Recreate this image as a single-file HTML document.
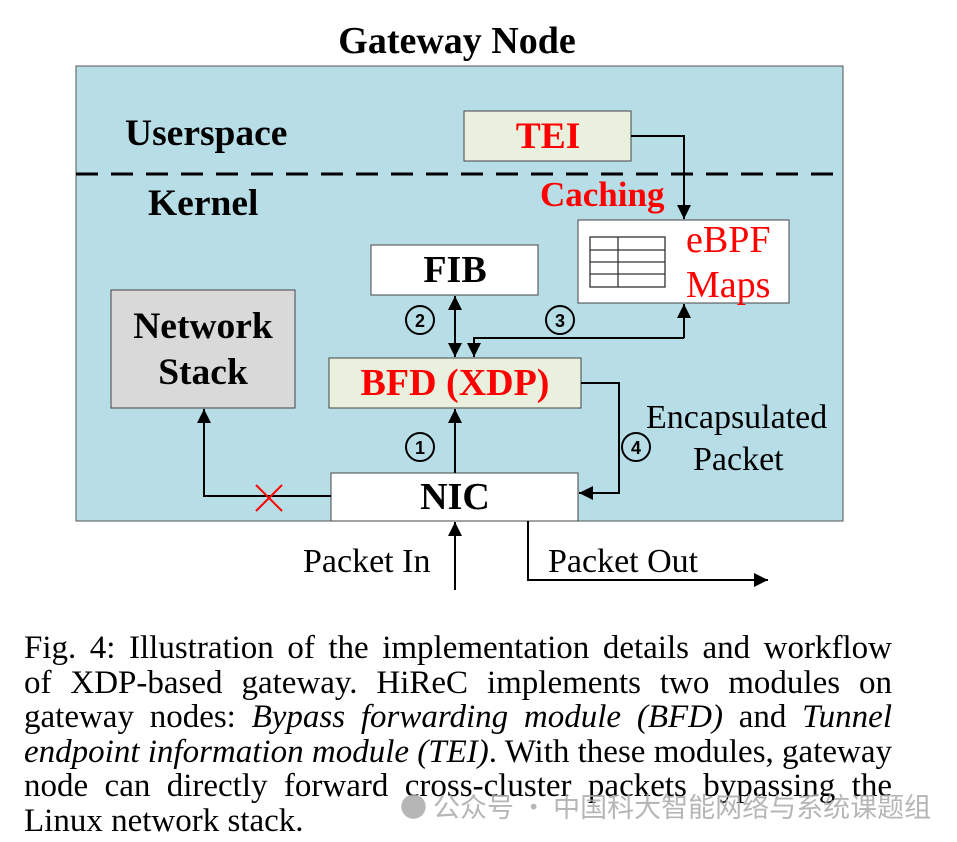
<!DOCTYPE html>
<html><head><meta charset="utf-8"><style>
body{margin:0;width:957px;height:842px;background:#fff;overflow:hidden;position:relative}
.cap{position:absolute;left:24px;width:868px;font-family:"Liberation Serif",serif;font-size:33px;line-height:34.6px;color:#000;top:631px}
.cap .l{display:block;height:34.6px;white-space:nowrap;text-align:justify;text-align-last:justify}
.wm{position:absolute;left:400px;top:786px;font-family:"Noto Sans CJK SC",sans-serif;font-size:27px;color:#aaa;opacity:.85;white-space:nowrap}
</style></head><body>
<svg width="957" height="620" style="position:absolute;left:0;top:0" font-family="Liberation Serif, serif">
<defs><marker id="b" viewBox="0 0 10 10" markerWidth="14" markerHeight="14" refX="10" refY="5" orient="auto" markerUnits="userSpaceOnUse"><path d="M0,0 L10,5 L0,10z" fill="#000"/></marker></defs>
<text x="457" y="53" text-anchor="middle" font-weight="bold" font-size="38">Gateway Node</text>
<rect x="76" y="66" width="767" height="455" fill="#b7dde7" stroke="#555" stroke-width="1"/>
<line x1="76" y1="174" x2="843" y2="174" stroke="#000" stroke-width="3" stroke-dasharray="22,13"/>
<text x="125" y="145" font-weight="bold" font-size="37.5">Userspace</text>
<text x="148" y="215" font-weight="bold" font-size="37.5">Kernel</text>
<rect x="464" y="111" width="167" height="50" fill="#e9f0de" stroke="#444"/>
<text x="548" y="148" text-anchor="middle" font-weight="bold" font-size="37.5" fill="#f00">TEI</text>
<text x="540" y="206" font-weight="bold" font-size="35" fill="#f00">Caching</text>
<rect x="578" y="220" width="211" height="83" fill="#fff" stroke="#444"/>
<g stroke="#333" stroke-width="1.3" fill="none"><rect x="590" y="237" width="75" height="50"/><line x1="590" y1="250" x2="665" y2="250"/><line x1="590" y1="262" x2="665" y2="262"/><line x1="590" y1="274" x2="665" y2="274"/><line x1="618" y1="237" x2="618" y2="287"/></g>
<text x="686" y="252" font-size="38" fill="#f00">eBPF</text>
<text x="686" y="297" font-size="38" fill="#f00">Maps</text>
<polyline points="631,136 684,136 684,219" fill="none" stroke="#000" stroke-width="2" marker-end="url(#b)"/>
<rect x="371" y="245" width="167" height="50" fill="#fff" stroke="#444"/>
<text x="455" y="282" text-anchor="middle" font-weight="bold" font-size="38">FIB</text>
<rect x="111" y="290" width="184" height="118" fill="#d9d9d9" stroke="#444"/>
<text x="203" y="338" text-anchor="middle" font-weight="bold" font-size="37.5">Network</text>
<text x="203" y="384" text-anchor="middle" font-weight="bold" font-size="37.5">Stack</text>
<rect x="329" y="358" width="252" height="50" fill="#e9f0de" stroke="#444"/>
<text x="455" y="395" text-anchor="middle" font-weight="bold" font-size="38" fill="#f00">BFD (XDP)</text>
<line x1="455" y1="310" x2="455" y2="357" stroke="#000" stroke-width="2" marker-end="url(#b)"/>
<line x1="455" y1="340" x2="455" y2="296" stroke="#000" stroke-width="2" marker-end="url(#b)"/>
<polyline points="684,338 474,338 474,357" fill="none" stroke="#000" stroke-width="2" marker-end="url(#b)"/>
<line x1="684" y1="338" x2="684" y2="304" stroke="#000" stroke-width="2" marker-end="url(#b)"/>
<g font-family="Liberation Sans, sans-serif" font-size="18" font-weight="bold" text-anchor="middle">
<circle cx="420" cy="320" r="14" fill="none" stroke="#000" stroke-width="2"/><text x="420" y="327">2</text>
<circle cx="560" cy="320" r="14" fill="none" stroke="#000" stroke-width="2"/><text x="560" y="327">3</text>
<circle cx="420" cy="447" r="14" fill="none" stroke="#000" stroke-width="2"/><text x="420" y="454">1</text>
<circle cx="636" cy="447" r="14" fill="none" stroke="#000" stroke-width="2"/><text x="636" y="454">4</text>
</g>
<rect x="331" y="473" width="247" height="48" fill="#fff" stroke="#444"/>
<text x="455" y="509" text-anchor="middle" font-weight="bold" font-size="38">NIC</text>
<line x1="455" y1="473" x2="455" y2="409" stroke="#000" stroke-width="2" marker-end="url(#b)"/>
<polyline points="581,383 619,383 619,493 579,493" fill="none" stroke="#000" stroke-width="2" marker-end="url(#b)"/>
<text x="646" y="428" font-size="34">Encapsulated</text>
<text x="693" y="470" font-size="34">Packet</text>
<polyline points="331,496 204,496 204,409" fill="none" stroke="#000" stroke-width="2" marker-end="url(#b)"/>
<g stroke="#f00" stroke-width="2"><line x1="256" y1="485" x2="282" y2="511"/><line x1="282" y1="485" x2="256" y2="511"/></g>
<line x1="455" y1="590" x2="455" y2="522" stroke="#000" stroke-width="2" marker-end="url(#b)"/>
<polyline points="528,521 528,580 768,580" fill="none" stroke="#000" stroke-width="2" marker-end="url(#b)"/>
<text x="303" y="572" font-size="34">Packet In</text>
<text x="548" y="572" font-size="34">Packet Out</text>
</svg>
<div class="cap">
<span class="l">Fig. 4: Illustration of the implementation details and workflow</span>
<span class="l">of XDP-based gateway. HiReC implements two modules on</span>
<span class="l">gateway nodes: <i>Bypass forwarding module (BFD)</i> and <i>Tunnel</i></span>
<span class="l"><i>endpoint information module (TEI)</i>. With these modules, gateway</span>
<span class="l">node can directly forward cross-cluster packets bypassing the</span>
<span class="l" style="text-align:left;text-align-last:left">Linux network stack.</span>
</div>
<div class="wm">● 公众号 · 中国科大智能网络与系统课题组</div>
</body></html>
